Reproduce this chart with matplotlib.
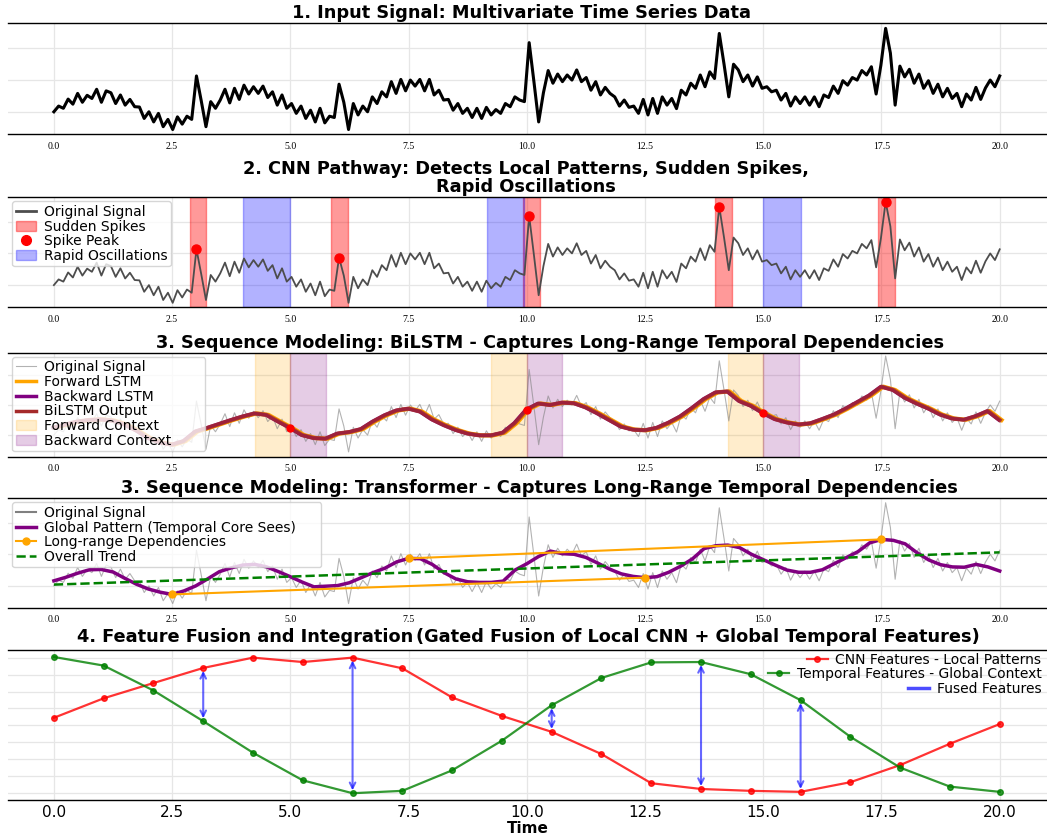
import matplotlib

matplotlib.use("Agg")
import matplotlib.pyplot as plt  # noqa: E402
import numpy as np  # noqa: E402
from matplotlib.lines import Line2D  # noqa: E402
from matplotlib.patches import Patch  # noqa: E402

# ---- data ----
time = np.linspace(0, 20, 200)
signal = np.array([
    0.00, 0.18, 0.11, 0.40, 0.24, 0.58, 0.30, 0.52, 0.42, 0.71,
    0.30, 0.66, 0.60, 0.26, 0.53, 0.21, 0.39, 0.16, 0.15, -0.21,
    0.00, -0.32, -0.05, -0.47, -0.24, -0.56, -0.16, -0.39, -0.14, -0.24,
    1.13, 0.35, -0.47, 0.32, 0.11, 0.37, 0.71, 0.28, 0.74, 0.39,
    0.84, 0.56, 0.79, 0.58, 0.81, 0.45, 0.63, 0.21, 0.53, 0.11,
    0.26, -0.05, 0.18, -0.21, 0.05, -0.32, 0.11, -0.35, -0.14, -0.18,
    0.87, 0.30, -0.56, 0.26, -0.10, 0.18, 0.00, 0.47, 0.26, 0.63,
    0.47, 0.95, 0.58, 1.02, 0.66, 1.00, 0.81, 1.02, 0.66, 1.02,
    0.53, 0.68, 0.37, 0.39, 0.05, 0.26, -0.05, 0.11, -0.18, 0.11,
    -0.21, 0.14, -0.10, 0.07, -0.05, 0.26, 0.16, 0.47, 0.37, 0.32,
    2.18, 0.95, -0.32, 0.60, 1.30, 0.90, 1.19, 0.95, 1.16, 1.00,
    1.32, 0.95, 1.08, 0.68, 0.95, 0.53, 0.77, 0.58, 0.47, 0.18,
    0.37, 0.14, 0.18, -0.05, 0.39, -0.10, 0.42, -0.05, 0.47, 0.21,
    0.42, 0.10, 0.68, 0.53, 0.90, 0.74, 1.16, 0.79, 1.26, 1.05,
    2.47, 1.50, 0.47, 1.50, 1.32, 0.95, 1.16, 0.81, 1.10, 0.74,
    0.79, 0.63, 0.68, 0.37, 0.58, 0.18, 0.47, 0.26, 0.47, 0.21,
    0.47, 0.16, 0.53, 0.45, 0.81, 0.58, 0.98, 0.84, 1.08, 1.00,
    1.30, 1.16, 1.42, 0.56, 1.47, 2.63, 1.85, 0.21, 1.44, 1.10,
    1.34, 0.90, 1.19, 0.74, 0.98, 0.58, 0.87, 0.47, 0.74, 0.42,
    0.58, 0.16, 0.56, 0.37, 0.77, 0.39, 0.75, 1.00, 0.79, 1.13,
])
spike_idx = [30, 60, 100, 140, 175]
spike_spans = [(2.87, 3.22), (5.87, 6.22), (9.93, 10.28), (13.98, 14.33), (17.43, 17.79)]
osc_spans = [(4.0, 5.0), (9.15, 9.95), (15.0, 15.8)]

smooth_t = np.linspace(0, 20, 81)
bilstm = np.array([
    0.25, 0.35, 0.45, 0.50, 0.52, 0.48, 0.35, 0.15, -0.10, -0.25,
    -0.32, -0.20, 0.12, 0.24, 0.37, 0.50, 0.62, 0.72, 0.67, 0.45,
    0.24, 0.00, -0.10, -0.12, 0.05, 0.10, 0.20, 0.45, 0.66, 0.82,
    0.88, 0.78, 0.52, 0.33, 0.17, 0.05, -0.01, -0.01, 0.08, 0.40,
    0.85, 1.05, 1.00, 1.08, 1.06, 0.92, 0.72, 0.50, 0.28, 0.18,
    0.16, 0.24, 0.41, 0.62, 0.90, 1.20, 1.42, 1.45, 1.13, 0.97,
    0.73, 0.53, 0.42, 0.35, 0.39, 0.53, 0.68, 0.88, 1.10, 1.32,
    1.61, 1.50, 1.24, 1.05, 0.88, 0.68, 0.55, 0.51, 0.63, 0.80,
    0.50,
])
context_t = [5.0, 10.0, 15.0]
context_w = 0.75

global_pattern = np.array([
    0.16, 0.27, 0.40, 0.51, 0.52, 0.44, 0.24, 0.05, -0.10, -0.20,
    -0.27, -0.16, 0.00, 0.22, 0.45, 0.57, 0.66, 0.68, 0.60, 0.45,
    0.29, 0.12, -0.03, -0.01, 0.01, 0.10, 0.26, 0.42, 0.56, 0.76,
    0.87, 0.86, 0.68, 0.42, 0.22, 0.13, 0.11, 0.11, 0.15, 0.50,
    0.70, 0.93, 1.10, 1.02, 1.00, 0.90, 0.72, 0.53, 0.38, 0.30,
    0.26, 0.29, 0.43, 0.62, 0.85, 1.18, 1.27, 1.29, 1.21, 1.00,
    0.83, 0.66, 0.50, 0.43, 0.43, 0.51, 0.70, 0.89, 1.08, 1.36,
    1.47, 1.44, 1.33, 1.05, 0.82, 0.67, 0.60, 0.59, 0.68, 0.60,
    0.47,
])
dep_pairs = [(2.5, 12.5), (7.5, 17.5)]
trend_t = [0.0, 20.0]
trend_v = [0.04, 1.06]

fusion_t = np.linspace(0, 20, 20)
cnn_feat = [0.545, 0.66, 0.75, 0.839, 0.90, 0.874, 0.90, 0.837, 0.665, 0.556,
            0.462, 0.331, 0.159, 0.125, 0.114, 0.108, 0.165, 0.266, 0.392, 0.508]
temporal_feat = [0.904, 0.853, 0.706, 0.525, 0.339, 0.176, 0.10, 0.114, 0.235, 0.41,
                 0.619, 0.78, 0.872, 0.874, 0.802, 0.649, 0.433, 0.251, 0.139, 0.108]
fused_idx = [3, 6, 10, 13, 15]

xticks = np.arange(0, 20.1, 2.5)

plt.rcParams["font.family"] = "DejaVu Sans"
W, H = 1047, 840
fig = plt.figure(figsize=(W / 100, H / 100), dpi=100)
rows = [(23.3, 134.3), (197.3, 307.3), (352.7, 456.7), (498.3, 607.7), (650, 800)]
L = 8 / W
axes = [fig.add_axes([L, 1 - b / H, 1 - L, (b - t) / H]) for t, b in rows]

LEG = dict(fontsize=10, handlelength=1.5, handletextpad=0.55, labelspacing=0.05,
           borderpad=0.25, borderaxespad=0.3)
TITLE_FS = 12.8


def style(ax, ylim, yt, big=False):
    ax.set_xlim(-0.97, 21.0)
    ax.set_ylim(*ylim)
    ax.set_yticks(yt)
    ax.tick_params(length=0, labelleft=False)
    if big:
        ax.set_xticks(xticks, labels=[f"{v:.1f}" for v in xticks], fontsize=11)
        ax.tick_params(axis="x", pad=3.5)
    else:
        ax.set_xticks(xticks, labels=[f"{v:.1f}" for v in xticks],
                      fontsize=7, fontfamily="Liberation Serif")
        ax.tick_params(axis="x", pad=5.5)
    ax.grid(True, color="#e6e6e6", lw=0.9)
    ax.set_axisbelow(True)
    for s in ("left", "right"):
        ax.spines[s].set_visible(False)
    for s in ("top", "bottom"):
        ax.spines[s].set_color("black")
        ax.spines[s].set_linewidth(1.0)


def title(ax, txt, center_px):
    # reference titles are not all exactly centred on the axes
    ax.set_title(txt, fontsize=TITLE_FS, fontweight="bold", pad=3.5, linespacing=1.05,
                 x=(center_px - 8) / (W - 8))


# 1. input signal
ax = axes[0]
ax.plot(time, signal, color="black", lw=2.2)
style(ax, (-0.71, 2.79), [0, 1, 2])
title(ax, "1. Input Signal: Multivariate Time Series Data", 522)

# 2. CNN pathway
ax = axes[1]
ax.plot(time, signal, color="#4d4d4d", lw=1.3)
for a, b in spike_spans:
    ax.axvspan(a, b, color="red", alpha=0.4)
for a, b in osc_spans:
    ax.axvspan(a, b, color="blue", alpha=0.3)
ax.plot(time[spike_idx], signal[spike_idx], "o", color="red", ms=6.5)
style(ax, (-0.70, 2.77), [0, 1, 2])
title(ax, "2. CNN Pathway: Detects Local Patterns, Sudden Spikes,\nRapid Oscillations", 526)
ax.legend(handles=[Line2D([], [], color="#4d4d4d", lw=2),
                   Patch(facecolor="red", edgecolor="red", alpha=0.4),
                   Line2D([], [], marker="o", color="red", ls="none", ms=7),
                   Patch(facecolor="blue", edgecolor="blue", alpha=0.3)],
          labels=["Original Signal", "Sudden Spikes", "Spike Peak", "Rapid Oscillations"],
          loc="upper left", **LEG)

# 3. BiLSTM
ax = axes[2]
ax.plot(time, signal, color="gray", lw=0.8, alpha=0.6)
for c in context_t:
    ax.axvspan(c - context_w, c, color="orange", alpha=0.2)
    ax.axvspan(c, c + context_w, color="purple", alpha=0.2)
ax.plot(smooth_t + 0.04, bilstm, color="orange", lw=3)
ax.plot(smooth_t - 0.02, bilstm, color="purple", lw=2.4)
ax.plot(smooth_t, bilstm, color="brown", lw=3, alpha=0.8)
ci = [int(round(c / 0.25)) for c in context_t]
ax.plot(smooth_t[ci], bilstm[ci], "o", color="red", ms=5)
style(ax, (-0.72, 2.74), [0, 1, 2])
title(ax, "3. Sequence Modeling: BiLSTM - Captures Long-Range Temporal Dependencies", 550)
ax.legend(handles=[Line2D([], [], color="gray", lw=0.8, alpha=0.6),
                   Line2D([], [], color="orange", lw=2.5),
                   Line2D([], [], color="purple", lw=2.5),
                   Line2D([], [], color="brown", lw=2.5),
                   Patch(facecolor="orange", edgecolor="orange", alpha=0.2),
                   Patch(facecolor="purple", edgecolor="purple", alpha=0.2)],
          labels=["Original Signal", "Forward LSTM", "Backward LSTM", "BiLSTM Output",
                  "Forward Context", "Backward Context       "],
          loc="upper left", **LEG)

# 4. Transformer
ax = axes[3]
ax.plot(time, signal, color="gray", lw=0.8, alpha=0.6)
ax.plot(smooth_t, global_pattern, color="purple", lw=2.5)
for a, b in dep_pairs:
    ia, ib = int(round(a / 0.25)), int(round(b / 0.25))
    ax.plot([a, b], [global_pattern[ia], global_pattern[ib]], "-o", color="orange",
            lw=1.5, ms=5)
ax.plot(trend_t, trend_v, "--", color="green", lw=1.8)
style(ax, (-0.69, 2.77), [0, 1, 2])
title(ax, "3. Sequence Modeling: Transformer - Captures Long-Range Temporal Dependencies", 539)
ax.legend(handles=[Line2D([], [], color="gray", lw=1.5),
                   Line2D([], [], color="purple", lw=2.5),
                   Line2D([], [], color="orange", lw=1.5, marker="o", ms=5),
                   Line2D([], [], color="green", lw=1.8, ls="--")],
          labels=["Original Signal", "Global Pattern (Temporal Core Sees)     ",
                  "Long-range Dependencies", "Overall Trend"],
          loc="upper left", **LEG)

# 5. Feature fusion
ax = axes[4]
ax.plot(fusion_t, cnn_feat, "-o", color="red", alpha=0.8, lw=1.6, ms=4,
        label="CNN Features - Local Patterns")
ax.plot(fusion_t, temporal_feat, "-o", color="green", alpha=0.8, lw=1.6, ms=4,
        label="Temporal Features - Global Context")
for i in fused_idx:
    ax.annotate("", xy=(fusion_t[i], temporal_feat[i]), xytext=(fusion_t[i], cnn_feat[i]),
                arrowprops=dict(arrowstyle="<->", color="blue", alpha=0.6, lw=1.5))
ax.plot([], [], color="blue", alpha=0.7, lw=2.5, label="Fused Features")
style(ax, (0.06, 0.945), np.arange(0.1, 0.91, 0.1), big=True)
ax.set_xlabel("Time", fontsize=11, fontweight="bold", labelpad=1)
fig.text(413.5 / W, 1 - 646 / H, "4. Feature Fusion and Integration", fontsize=TITLE_FS,
         fontweight="bold", ha="right", va="bottom")
fig.text(416 / W, 1 - 646 / H, "(Gated Fusion of Local CNN + Global Temporal Features)",
         fontsize=TITLE_FS, fontweight="bold", ha="left", va="bottom")
leg = ax.legend(loc="upper right", bbox_to_anchor=(1.0, 1.02), frameon=False,
                fontsize=10, handlelength=1.5, handletextpad=0.55, labelspacing=0.05,
                borderpad=0.2, borderaxespad=0.2)
for col in leg._legend_handle_box.get_children():
    col.align = "right"

fig.savefig("out.png", dpi=100)
